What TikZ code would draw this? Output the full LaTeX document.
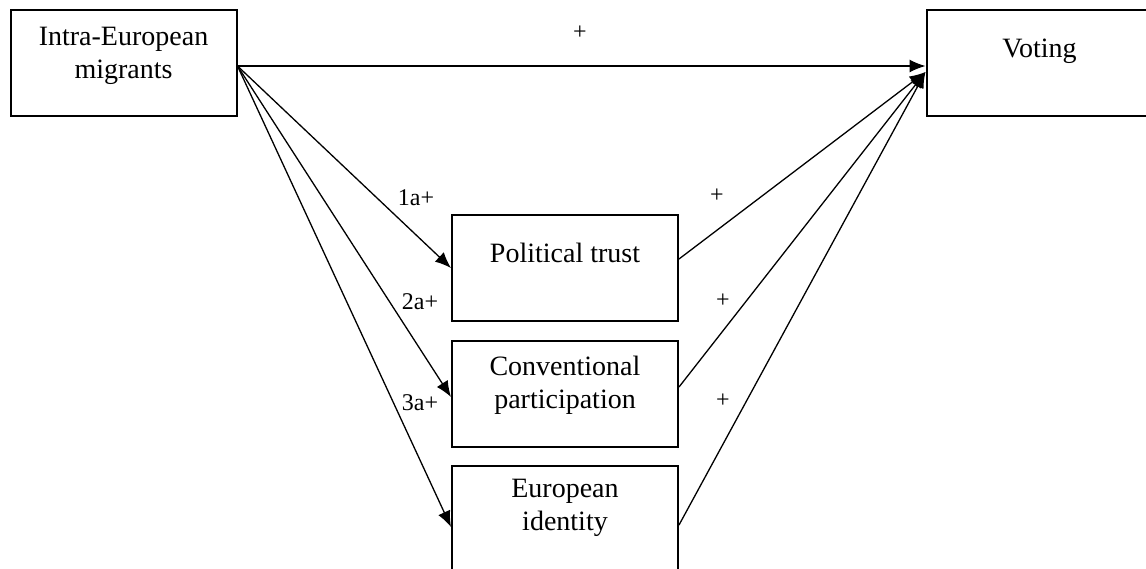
\documentclass[tikz,border=0pt]{standalone}
\usepackage{fontspec}
\setmainfont{Liberation Serif}
\usetikzlibrary{arrows.meta}

\begin{document}
\begin{tikzpicture}
[	
	x=0.5pt,y=-0.5pt,
	bx/.style={rectangle,draw,line width=1,minimum height=53pt,minimum width=113pt,inner sep=0pt},
	tx/.style={anchor=base,align=center,inner sep=0pt,font=\fontsize{14}{16.5}\selectfont},
	lb/.style={inner sep=0pt,font=\fontsize{12}{14}\selectfont},
	ar/.style={line width=0.65,-{Latex[length=8pt,width=6.5pt]}}
]
\useasboundingbox (0,0) rectangle (1146,568);

\node[bx] (mig) at (123.5,63) {};
\node[bx] (vote) at (1039.5,63) {};

\node[bx] (trust) at (565,268) {};
\node[bx] (conv) at (565,393.5) {};
\node[bx] (ident) at (565,518.5) {};

\node[tx] (migt) at (123.5,78) {Intra-European\\migrants};
\node[tx] (votet) at (1039.5,57) {Voting};
\node[tx] (trustt) at (565,262) {Political trust};
\node[tx] (convt) at (565,408) {Conventional\\participation};
\node[tx] (identt) at (565,530) {European\\identity};


\draw[ar] ([yshift=-1.5pt]mig.east) -- ([yshift=-1.5pt]vote.west);

\draw[ar] ([yshift=-1.5pt]mig.east) -- (trust.west);
\draw[ar] ([yshift=-1.5pt]mig.east) -- ([yshift=-1.75pt]conv.west);
\draw[ar] ([yshift=-1.5pt]mig.east) -- ([yshift=-4.25pt]ident.west);

\draw[ar] ([yshift=4.5pt]trust.east) -- ([yshift=-4.5pt]vote.west);
\draw[ar] ([yshift=3.25pt]conv.east) -- ([yshift=-4.5pt]vote.west);
\draw[ar] ([yshift=-3.25pt]ident.east) -- ([yshift=-4.5pt]vote.west);

\node[lb] (p0) at (580,33) {+};
\node[lb] (p1a) at (416,198) {1a+};
\node[lb] (p2a) at (420,302) {2a+};
\node[lb] (p3a) at (420,403) {3a+};
\node[lb] (p1b) at (717,196) {+};
\node[lb] (p2b) at (723,301) {+};
\node[lb] (p3b) at (723,401) {+};

\end{tikzpicture}
\end{document}
